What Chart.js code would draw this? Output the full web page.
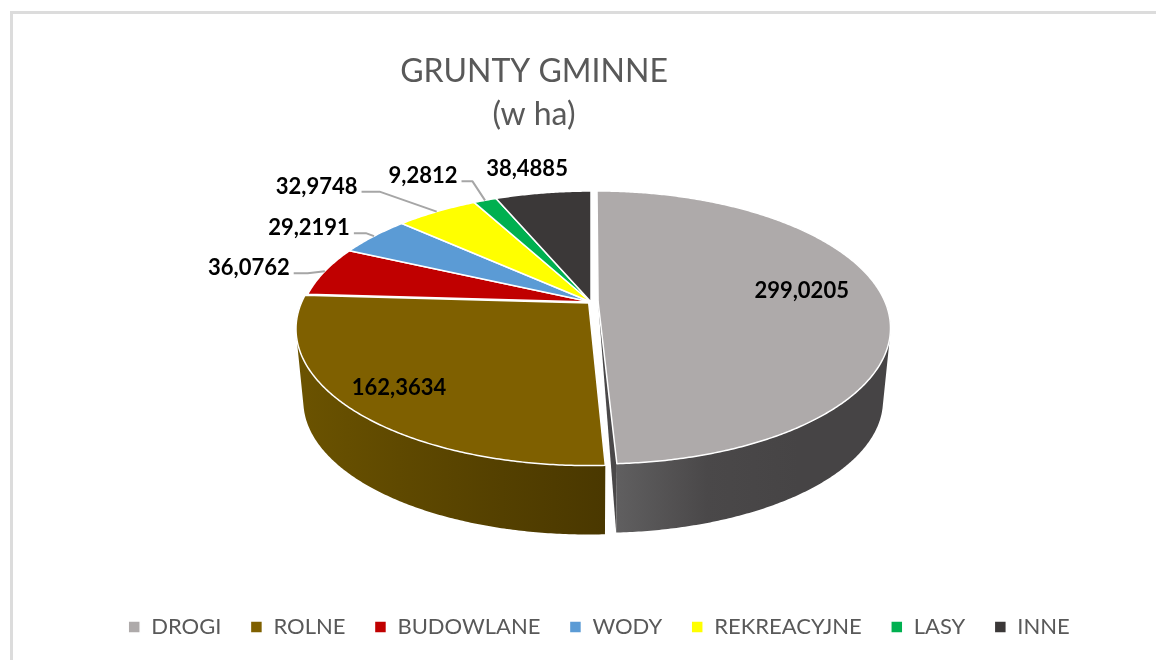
<!DOCTYPE html>
<html>
<head>
<meta charset="utf-8">
<title>Grunty gminne</title>
<script src="https://cdn.jsdelivr.net/npm/chart.js@4"></script>
<style>
    html, body { margin: 0; padding: 0; background: #fff; overflow: hidden; }
    #wrap { position: relative; width: 1156px; height: 660px; overflow: hidden; }
    #frame { position: absolute; left: 10px; top: 11px; width: 1300px; height: 800px; border: 3px solid #dcdcdc; }
    #myChart { position: absolute; left: 0; top: 0; }
</style>
</head>
<body>
<div id="wrap">
    <div id="frame"></div>
    <canvas id="myChart" width="1156" height="660"></canvas>
</div>
<script>
const categories = ['DROGI', 'ROLNE', 'BUDOWLANE', 'WODY', 'REKREACYJNE', 'LASY', 'INNE'];
const values = [299.0205, 162.3634, 36.0762, 29.2191, 32.9748, 9.2812, 38.4885];
const valueLabels = ['299,0205', '162,3634', '36,0762', '29,2191', '32,9748', '9,2812', '38,4885'];
const colors = ['#AEAAAA', '#7F6000', '#C00000', '#5B9BD5', '#FFFF00', '#00B050', '#3B3838'];
const explode = [5.5, 2.5, 0, 0, 0, 0, 0];

// side wall shades, left to right
const wallShades = {
    0: ['#605f60', '#4a4849', '#464445', '#464445'],
    1: ['#6b5300', '#5f4900', '#544000', '#4a3800']
};

// data label placement relative to the outer edge of its slice
const labelDx = [-82, 46, -76, -65, -120, -62, -16];
const labelDy = [-8, -22, -3, -8, -25, -24, -24];
const leaderKnee = [0, 0, 14, 12, 18, 11, 0];

// the tilted pie: apex, half axes, perspective
const pie = { x: 591, y: 302, c: 287, b: 131.7, p: 0.187, depth: 73, shrink: 0.975 };

function project(u, v, bottom) {
    const w = 1 - pie.p * v;
    const k = bottom ? pie.shrink : 1;
    return {
        x: pie.x + k * pie.c * u / w,
        y: pie.y + (bottom ? pie.depth : 0) + k * pie.b * v / w
    };
}

// unit disc position of a point on the slice, exploded along its middle angle
function slicePoint(arc, angle, radius) {
    const off = arc.options.offset / arc.outerRadius;
    const mid = (arc.startAngle + arc.endAngle) / 2;
    return {
        u: radius * Math.cos(angle) + off * Math.cos(mid),
        v: radius * Math.sin(angle) + off * Math.sin(mid)
    };
}

function quadArea(q) {
    let sum = 0;
    q.forEach((pt, i) => {
        const next = q[(i + 1) % q.length];
        sum += pt.x * next.y - next.x * pt.y;
    });
    return sum;
}

function drawWall(ctx, arc, index) {
    const shades = wallShades[index];
    if (!shades) return;
    const step = Math.PI / 360;
    const strips = [];
    for (let a = arc.startAngle; a < arc.endAngle; a += step) {
        const end = Math.min(a + step, arc.endAngle);
        const p0 = slicePoint(arc, a, 1);
        const p1 = slicePoint(arc, end, 1);
        if (Math.sin(a) < 0 && Math.sin(end) < 0) continue;
        const q = [project(p0.u, p0.v), project(p1.u, p1.v), project(p1.u, p1.v, true), project(p0.u, p0.v, true)];
        // all strips wound the same way, or the overlaps cancel out
        strips.push(quadArea(q) < 0 ? q.reverse() : q);
    }
    const xs = strips.flat().map(pt => pt.x);
    const grad = ctx.createLinearGradient(Math.min(...xs), 0, Math.max(...xs), 0);
    shades.forEach((c, i) => grad.addColorStop(i / (shades.length - 1), c));
    ctx.fillStyle = grad;
    // one path for all strips, so no seams show between them
    ctx.beginPath();
    strips.forEach(q => {
        ctx.moveTo(q[0].x, q[0].y);
        ctx.lineTo(q[1].x, q[1].y);
        ctx.lineTo(q[2].x, q[2].y);
        ctx.lineTo(q[3].x, q[3].y);
        ctx.closePath();
    });
    ctx.fill();
}

// the cut face that shows because the big slice is pulled out
function drawCutFace(ctx, arc) {
    const a = slicePoint(arc, 0, 0);
    const e = slicePoint(arc, arc.endAngle, 1);
    const apex = project(a.u, a.v);
    const top = project(e.u, e.v);
    const low = project(e.u, e.v, true);
    ctx.fillStyle = '#4a4849';
    ctx.beginPath();
    ctx.moveTo(apex.x, apex.y);
    ctx.lineTo(top.x, top.y);
    ctx.lineTo(low.x, low.y);
    ctx.closePath();
    ctx.fill();
}

function drawTop(ctx, arc) {
    const apex = slicePoint(arc, 0, 0);
    const a0 = project(apex.u, apex.v);
    ctx.beginPath();
    ctx.moveTo(a0.x, a0.y);
    const n = Math.ceil((arc.endAngle - arc.startAngle) / (Math.PI / 360));
    for (let i = 0; i <= n; i++) {
        const p = slicePoint(arc, arc.startAngle + (arc.endAngle - arc.startAngle) * i / n, 1);
        const pt = project(p.u, p.v);
        ctx.lineTo(pt.x, pt.y);
    }
    ctx.closePath();
    ctx.fillStyle = arc.options.backgroundColor;
    ctx.fill();
    ctx.strokeStyle = arc.options.borderColor;
    ctx.lineWidth = arc.options.borderWidth;
    ctx.lineJoin = 'round';
    ctx.stroke();
}

function drawLabels(ctx, arcs) {
    ctx.font = 'bold 22px Lato';
    ctx.textBaseline = 'middle';
    ctx.textAlign = 'center';
    arcs.forEach((arc, i) => {
        const mid = (arc.startAngle + arc.endAngle) / 2;
        const edge = slicePoint(arc, mid, 1);
        const anchor = project(edge.u, edge.v);
        const x = anchor.x + labelDx[i];
        const y = anchor.y + labelDy[i];
        if (leaderKnee[i]) {
            const startX = x + ctx.measureText(valueLabels[i]).width / 2 + 4;
            ctx.strokeStyle = '#a6a6a6';
            ctx.lineWidth = 2;
            ctx.beginPath();
            ctx.moveTo(startX, y + 5);
            ctx.lineTo(startX + leaderKnee[i], y + 5);
            ctx.lineTo(anchor.x, anchor.y);
            ctx.stroke();
        }
        ctx.fillStyle = '#000';
        ctx.fillText(valueLabels[i], x, y);
    });
}

const tiltedPie = {
    id: 'tiltedPie',
    afterLayout(chart) {
        // title sits left of the middle, legend right of it
        chart.titleBlock.left -= 44;
        chart.titleBlock.right -= 44;
        chart.legend.left += 21;
        chart.legend.right += 21;
    },
    beforeDatasetDraw(chart, args) {
        const ctx = chart.ctx;
        const arcs = args.meta.data;
        ctx.save();
        arcs.forEach((arc, i) => drawWall(ctx, arc, i));
        drawCutFace(ctx, arcs[0]);
        arcs.forEach(arc => drawTop(ctx, arc));
        drawLabels(ctx, arcs);
        ctx.restore();
        return false;
    }
};

new Chart(document.getElementById('myChart').getContext('2d'), {
    type: 'pie',
    data: {
        labels: categories,
        datasets: [{
            data: values,
            backgroundColor: colors,
            borderColor: '#ffffff',
            borderWidth: 1.5,
            offset: explode
        }]
    },
    options: {
        responsive: false,
        animation: false,
        layout: { padding: { bottom: 12 } },
        plugins: {
            title: {
                display: true,
                text: ['GRUNTY GMINNE', '(w ha)'],
                color: '#595959',
                font: { family: 'Lato', size: 32, weight: 'normal', lineHeight: 1.35 },
                padding: { top: 50, bottom: 0 }
            },
            legend: {
                position: 'bottom',
                labels: {
                    color: '#595959',
                    font: { family: 'Lato', size: 22 },
                    boxWidth: 12,
                    boxHeight: 12,
                    padding: 29
                }
            },
            tooltip: { enabled: false }
        }
    },
    plugins: [tiltedPie]
});
</script>
</body>
</html>
